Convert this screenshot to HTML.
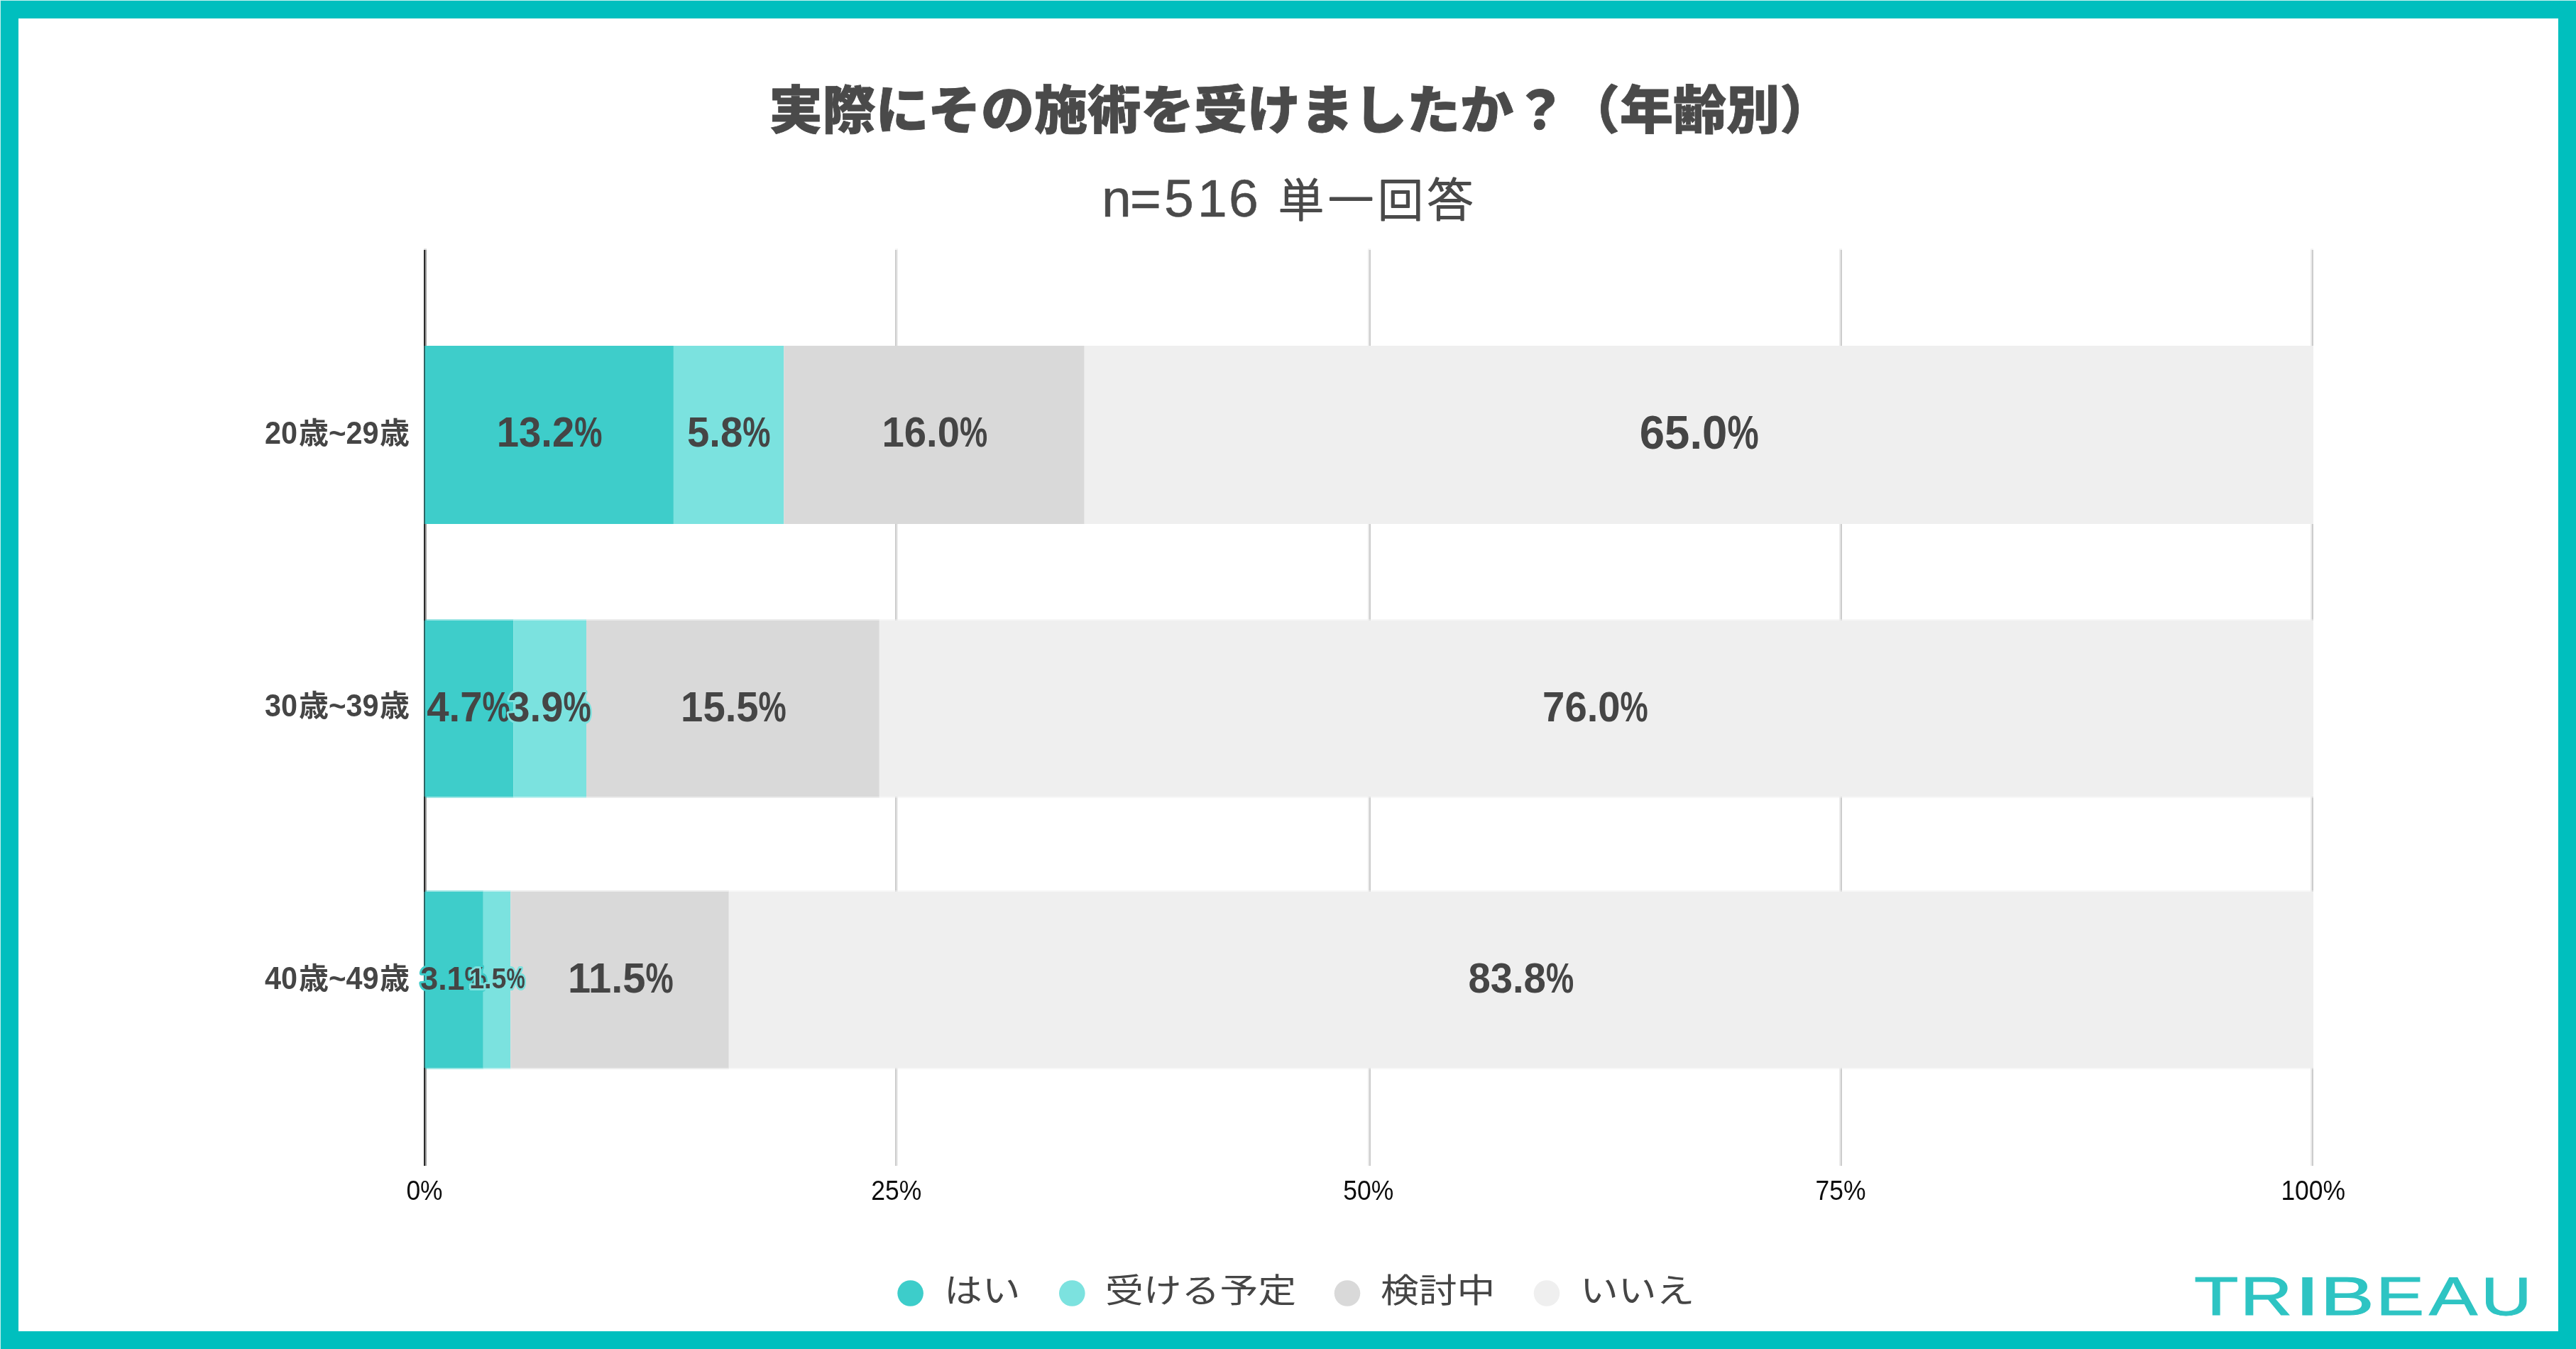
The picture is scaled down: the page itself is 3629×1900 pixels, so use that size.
<!DOCTYPE html>
<html lang="ja"><head><meta charset="utf-8"><title>実際にその施術を受けましたか？（年齢別）</title>
<style>html,body{margin:0;padding:0;background:#fff}body{width:3629px;height:1900px;overflow:hidden}svg{display:block}.t{font-family:"Liberation Sans","Noto Sans CJK JP",sans-serif}.j{font-family:"Liberation Sans","Noto Sans CJK JP",sans-serif}</style></head><body>
<svg width="3629" height="1900" viewBox="0 0 3629 1900">
<defs><filter id="soft" x="-5%" y="-20%" width="110%" height="140%"><feGaussianBlur stdDeviation="0.7"/></filter></defs>
<rect x="0" y="0" width="3629" height="1900" fill="#c9f1ef"/>
<rect x="1" y="1" width="3628" height="1899" fill="#00bfbe"/>
<rect x="26" y="26" width="3578" height="1849" fill="#ffffff"/>
<text class="j" transform="translate(1083.5,180.8) scale(1.03,1)" x="0" y="0" font-size="73" letter-spacing="-0.18" font-weight="900" fill="#4a4a4a" stroke="#4a4a4a" stroke-width="0.8">実際にその施術を受けましたか？（年齢別）</text>
<text y="305" fill="#4a4a4a" stroke="#4a4a4a" stroke-linejoin="round" stroke-linecap="round"><tspan class="t" x="1552 1592 1640 1687 1731" font-size="75" stroke-width="0.6">n=516 </tspan><tspan class="j" x="1801" font-size="64" font-weight="300" letter-spacing="6" stroke-width="2.2">単一回答</tspan></text>
<rect x="1261" y="350" width="4" height="2" fill="#f4f4f4"/>
<rect x="1261" y="352" width="2" height="1290" fill="#cccccc"/><rect x="1263" y="352" width="2" height="1290" fill="#ebebeb"/>
<rect x="1927" y="350" width="4" height="2" fill="#f4f4f4"/>
<rect x="1927" y="352" width="2" height="1290" fill="#ebebeb"/><rect x="1929" y="352" width="2" height="1290" fill="#cccccc"/>
<rect x="2591" y="350" width="4" height="2" fill="#f4f4f4"/>
<rect x="2591" y="352" width="2" height="1290" fill="#ebebeb"/><rect x="2593" y="352" width="2" height="1290" fill="#cccccc"/>
<rect x="3255" y="350" width="4" height="2" fill="#f4f4f4"/>
<rect x="3255" y="352" width="2" height="1290" fill="#ebebeb"/><rect x="3257" y="352" width="2" height="1290" fill="#cccccc"/>
<rect x="599" y="352" width="2" height="1290" fill="#9c9c9c"/>
<rect x="597" y="350" width="4" height="2" fill="#dcdcdc"/>
<rect x="599" y="487" width="349.9" height="251" fill="#3ecdca"/>
<rect x="948.9" y="487" width="155.4" height="251" fill="#7be2df"/>
<rect x="1104.3" y="487" width="423.4" height="251" fill="#d9d9d9"/>
<rect x="1527.7" y="487" width="1731.3" height="251" fill="#efefef"/>
<rect x="599" y="874" width="124.2" height="248" fill="#3ecdca"/>
<rect x="599" y="872" width="124.2" height="2" fill="#3ecdca" fill-opacity="0.5"/>
<rect x="599" y="1122" width="124.2" height="2" fill="#3ecdca" fill-opacity="0.5"/>
<rect x="723.2" y="874" width="102.8" height="248" fill="#7be2df"/>
<rect x="723.2" y="872" width="102.8" height="2" fill="#7be2df" fill-opacity="0.5"/>
<rect x="723.2" y="1122" width="102.8" height="2" fill="#7be2df" fill-opacity="0.5"/>
<rect x="826.0" y="874" width="412.8" height="248" fill="#d9d9d9"/>
<rect x="826.0" y="872" width="412.8" height="2" fill="#d9d9d9" fill-opacity="0.5"/>
<rect x="826.0" y="1122" width="412.8" height="2" fill="#d9d9d9" fill-opacity="0.5"/>
<rect x="1238.8" y="874" width="2020.2" height="248" fill="#efefef"/>
<rect x="1238.8" y="872" width="2020.2" height="2" fill="#efefef" fill-opacity="0.5"/>
<rect x="1238.8" y="1122" width="2020.2" height="2" fill="#efefef" fill-opacity="0.5"/>
<rect x="599" y="1256" width="81.8" height="248" fill="#3ecdca"/>
<rect x="599" y="1254" width="81.8" height="2" fill="#3ecdca" fill-opacity="0.5"/>
<rect x="599" y="1504" width="81.8" height="2" fill="#3ecdca" fill-opacity="0.5"/>
<rect x="680.8" y="1256" width="38.5" height="248" fill="#7be2df"/>
<rect x="680.8" y="1254" width="38.5" height="2" fill="#7be2df" fill-opacity="0.5"/>
<rect x="680.8" y="1504" width="38.5" height="2" fill="#7be2df" fill-opacity="0.5"/>
<rect x="719.3" y="1256" width="307.5" height="248" fill="#d9d9d9"/>
<rect x="719.3" y="1254" width="307.5" height="2" fill="#d9d9d9" fill-opacity="0.5"/>
<rect x="719.3" y="1504" width="307.5" height="2" fill="#d9d9d9" fill-opacity="0.5"/>
<rect x="1026.8" y="1256" width="2232.2" height="248" fill="#efefef"/>
<rect x="1026.8" y="1254" width="2232.2" height="2" fill="#efefef" fill-opacity="0.5"/>
<rect x="1026.8" y="1504" width="2232.2" height="2" fill="#efefef" fill-opacity="0.5"/>
<rect x="597" y="352" width="2" height="1290" fill="#2b2b2b"/>
<rect x="597" y="487" width="2" height="251" fill="#2c6665"/>
<rect x="597" y="874" width="2" height="248" fill="#2c6665"/>
<rect x="597" y="1256" width="2" height="248" fill="#2c6665"/>
<g filter="url(#soft)">
<text class="t" x="373" y="625" font-size="42" font-weight="700" fill="#444444"><tspan font-size="45" textLength="46" lengthAdjust="spacingAndGlyphs">20</tspan><tspan dx="2">歳</tspan>~<tspan font-size="45" textLength="46" lengthAdjust="spacingAndGlyphs">29</tspan><tspan dx="1.5">歳</tspan></text>
<text class="t" x="373" y="1009" font-size="42" font-weight="700" fill="#444444"><tspan font-size="45" textLength="46" lengthAdjust="spacingAndGlyphs">30</tspan><tspan dx="2">歳</tspan>~<tspan font-size="45" textLength="46" lengthAdjust="spacingAndGlyphs">39</tspan><tspan dx="1.5">歳</tspan></text>
<text class="t" x="373" y="1393" font-size="42" font-weight="700" fill="#444444"><tspan font-size="45" textLength="46" lengthAdjust="spacingAndGlyphs">40</tspan><tspan dx="2">歳</tspan>~<tspan font-size="45" textLength="46" lengthAdjust="spacingAndGlyphs">49</tspan><tspan dx="1.5">歳</tspan></text>
<text class="t" x="699.7" y="628.8" font-size="58.8" font-weight="700" fill="#444444" stroke="#3ecdca" stroke-width="6" stroke-linejoin="round" paint-order="stroke"><tspan textLength="109.5" lengthAdjust="spacingAndGlyphs">13.2</tspan><tspan textLength="39.2" lengthAdjust="spacingAndGlyphs">%</tspan></text>
<text class="t" x="968.1" y="628.8" font-size="58.8" font-weight="700" fill="#444444" stroke="#7be2df" stroke-width="6" stroke-linejoin="round" paint-order="stroke"><tspan textLength="78.2" lengthAdjust="spacingAndGlyphs">5.8</tspan><tspan textLength="39.2" lengthAdjust="spacingAndGlyphs">%</tspan></text>
<text class="t" x="1242.5" y="628.8" font-size="58.8" font-weight="700" fill="#444444" stroke="#d9d9d9" stroke-width="6" stroke-linejoin="round" paint-order="stroke"><tspan textLength="109.5" lengthAdjust="spacingAndGlyphs">16.0</tspan><tspan textLength="39.2" lengthAdjust="spacingAndGlyphs">%</tspan></text>
<text class="t" x="2309.8" y="631.6" font-size="66.4" font-weight="700" fill="#444444" stroke="#efefef" stroke-width="6" stroke-linejoin="round" paint-order="stroke"><tspan textLength="123.6" lengthAdjust="spacingAndGlyphs">65.0</tspan><tspan textLength="44.2" lengthAdjust="spacingAndGlyphs">%</tspan></text>
<text class="t" x="601.3" y="1015.9" font-size="59.9" font-weight="700" fill="#444444" stroke="#3ecdca" stroke-width="6" stroke-linejoin="round" paint-order="stroke"><tspan textLength="78.2" lengthAdjust="spacingAndGlyphs">4.7</tspan><tspan textLength="39.2" lengthAdjust="spacingAndGlyphs">%</tspan></text>
<text class="t" x="715.3" y="1015.9" font-size="59.9" font-weight="700" fill="#444444" stroke="#7be2df" stroke-width="6" stroke-linejoin="round" paint-order="stroke"><tspan textLength="78.2" lengthAdjust="spacingAndGlyphs">3.9</tspan><tspan textLength="39.2" lengthAdjust="spacingAndGlyphs">%</tspan></text>
<text class="t" x="959.1" y="1015.9" font-size="59.9" font-weight="700" fill="#444444" stroke="#d9d9d9" stroke-width="6" stroke-linejoin="round" paint-order="stroke"><tspan textLength="109.5" lengthAdjust="spacingAndGlyphs">15.5</tspan><tspan textLength="39.2" lengthAdjust="spacingAndGlyphs">%</tspan></text>
<text class="t" x="2173.1" y="1015.9" font-size="59.9" font-weight="700" fill="#444444" stroke="#efefef" stroke-width="6" stroke-linejoin="round" paint-order="stroke"><tspan textLength="109.5" lengthAdjust="spacingAndGlyphs">76.0</tspan><tspan textLength="39.2" lengthAdjust="spacingAndGlyphs">%</tspan></text>
<text class="t" x="592.2" y="1393.8" font-size="46.2" font-weight="700" fill="#444444" stroke="#3ecdca" stroke-width="6" stroke-linejoin="round" paint-order="stroke"><tspan textLength="62.4" lengthAdjust="spacingAndGlyphs">3.1</tspan><tspan textLength="31.3" lengthAdjust="spacingAndGlyphs">%</tspan></text>
<text class="t" x="661.2" y="1392.2" font-size="40.9" font-weight="700" fill="#444444" stroke="#7be2df" stroke-width="6" stroke-linejoin="round" paint-order="stroke"><tspan textLength="52.3" lengthAdjust="spacingAndGlyphs">1.5</tspan><tspan textLength="26.2" lengthAdjust="spacingAndGlyphs">%</tspan></text>
<text class="t" x="800.0" y="1397.8" font-size="59.9" font-weight="700" fill="#444444" stroke="#d9d9d9" stroke-width="6" stroke-linejoin="round" paint-order="stroke"><tspan textLength="109.5" lengthAdjust="spacingAndGlyphs">11.5</tspan><tspan textLength="39.2" lengthAdjust="spacingAndGlyphs">%</tspan></text>
<text class="t" x="2068.4" y="1397.8" font-size="59.9" font-weight="700" fill="#444444" stroke="#efefef" stroke-width="6" stroke-linejoin="round" paint-order="stroke"><tspan textLength="109.5" lengthAdjust="spacingAndGlyphs">83.8</tspan><tspan textLength="39.2" lengthAdjust="spacingAndGlyphs">%</tspan></text>
<text class="t" x="572.4" y="1690" font-size="39" fill="#111111" textLength="51.2" lengthAdjust="spacingAndGlyphs">0%</text>
<text class="t" x="1227.3" y="1690" font-size="39" fill="#111111" textLength="71.0" lengthAdjust="spacingAndGlyphs">25%</text>
<text class="t" x="1892.3" y="1690" font-size="39" fill="#111111" textLength="71.0" lengthAdjust="spacingAndGlyphs">50%</text>
<text class="t" x="2557.5" y="1690" font-size="39" fill="#111111" textLength="71.0" lengthAdjust="spacingAndGlyphs">75%</text>
<text class="t" x="3213.4" y="1690" font-size="39" fill="#111111" textLength="90.7" lengthAdjust="spacingAndGlyphs">100%</text>
<circle cx="1282.6" cy="1821.5" r="18.3" fill="#3ecdca"/>
<text class="j" transform="translate(1330,1833.7) scale(1.15,1)" x="0" y="0" font-size="46.8" font-weight="400" fill="#444444">はい</text>
<circle cx="1510.3" cy="1821.5" r="18.3" fill="#7be2df"/>
<text class="j" transform="translate(1557,1833.7) scale(1.15,1)" x="0" y="0" font-size="46.8" font-weight="400" fill="#444444">受ける予定</text>
<circle cx="1898" cy="1821.5" r="18.3" fill="#d9d9d9"/>
<text class="j" transform="translate(1945,1833.7) scale(1.15,1)" x="0" y="0" font-size="46.8" font-weight="400" fill="#444444">検討中</text>
<circle cx="2179" cy="1821.5" r="18.3" fill="#efefef"/>
<text class="j" transform="translate(2226,1833.7) scale(1.15,1)" x="0" y="0" font-size="46.8" font-weight="400" fill="#444444">いいえ</text>
</g>
<text class="t" transform="translate(0,1851.6) scale(1.355,1)" y="0" font-size="75.4" fill="#2ec4c3" stroke="#2ec4c3" stroke-width="1.0"><tspan x="2281.1" textLength="46.1" lengthAdjust="spacingAndGlyphs">T</tspan><tspan x="2328.9" textLength="54.4" lengthAdjust="spacingAndGlyphs">R</tspan><tspan x="2385.0" textLength="27.7" lengthAdjust="spacingAndGlyphs">I</tspan><tspan x="2412.1" textLength="56.3" lengthAdjust="spacingAndGlyphs">B</tspan><tspan x="2470.2" textLength="50.3" lengthAdjust="spacingAndGlyphs">E</tspan><tspan x="2525.5" textLength="50.3" lengthAdjust="spacingAndGlyphs">A</tspan><tspan x="2579.4" textLength="52.8" lengthAdjust="spacingAndGlyphs">U</tspan></text>
</svg></body></html>
